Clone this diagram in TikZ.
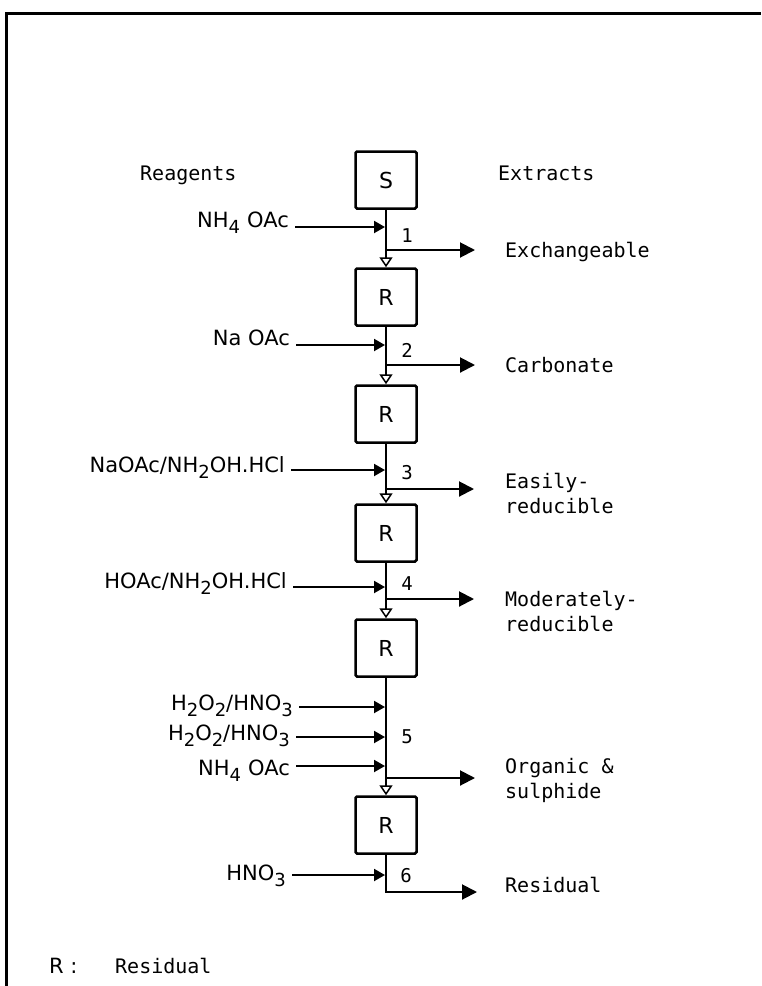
\documentclass[tikz,border=0pt]{standalone}
\usepackage{fontspec}
\usetikzlibrary{arrows.meta}
\newfontfamily\regfont{DejaVu Sans}
\newfontfamily\extfont{DejaVu Sans Mono}
\newcommand\lowsub[1]{\raisebox{-6pt}{\fontsize{18}{18}\selectfont #1}}

\tikzset{
    box/.style={draw, line width=2.5pt, rounded corners=1.5pt, minimum width=61pt, minimum height=57pt,
        inner sep=0pt, font=\regfont\fontsize{22}{22}\selectfont},
    reagent/.style={anchor=base east, inner sep=0pt, font=\regfont\fontsize{21}{21}\selectfont},
    extract/.style={anchor=base west, inner sep=0pt, align=left, font=\extfont\fontsize{20}{25}\selectfont},
    stepno/.style={inner sep=0pt, font=\extfont\fontsize{19}{19}\selectfont},
    trunk/.style={line width=2pt, -{Triangle[open, length=10pt, width=13pt, line width=1.5pt]}},
    feed/.style={line width=2pt, shorten <=6pt, -{Triangle[length=11pt, width=12pt]}},
    exitarrow/.style={line width=2pt, -{Triangle[length=15pt, width=15pt]}}
}

\begin{document}
\begin{tikzpicture}[x=1pt, y=-1pt]
                            \useasboundingbox (0,0) rectangle (761,986);
                            \draw[line width=3pt] (6,986) -- (6,13) -- (761,13);

                            % headings
                            \node[extract] (hr) at (140,180) {Reagents};
                            \node[extract] (he) at (498,180) {Extracts};

                            % sample and residues
                            \node[box] (s) at (386,180) {S};
                            \node[box] (r1) at (386,297) {R};
                            \node[box] (r2) at (386,414) {R};
                            \node[box] (r3) at (386,533) {R};
                            \node[box] (r4) at (386,648) {R};
                            \node[box] (r5) at (386,825) {R};

                            \draw[trunk] (s) -- (r1);
                            \draw[trunk] (r1) -- (r2);
                            \draw[trunk] (r2) -- (r3);
                            \draw[trunk] (r3) -- (r4);
                            \draw[trunk] (r4) -- (r5);

                            % points on the trunk
                            \coordinate (c1) at (385,227);
                            \coordinate (c2) at (385,345);
                            \coordinate (c3) at (385,470);
                            \coordinate (c4) at (385,587);
                            \coordinate (c5a) at (385,707);
                            \coordinate (c5b) at (385,737);
                            \coordinate (c5c) at (385,766);
                            \coordinate (c6) at (385,875);

                            \coordinate (o1) at (386,250);
                            \coordinate (o2) at (386,365);
                            \coordinate (o3) at (386,489);
                            \coordinate (o4) at (386,599);
                            \coordinate (o5) at (386,778);
                            \coordinate (t1) at (475,250);
                            \coordinate (t2) at (475,365);
                            \coordinate (t3) at (474,489);
                            \coordinate (t4) at (474,599);
                            \coordinate (t5) at (475,778);
                            \coordinate (t6) at (477,892);

                            % reagents
                            \node[reagent] (g1) at (289,227) {NH\lowsub{4}\,\,OAc};
                            \node[reagent] (g2) at (290,345) {Na OAc};
                            \node[reagent] (g3) at (285,472) {NaOAc/NH\lowsub{2}OH.HCl};
                            \node[reagent] (g4) at (287,588) {HOAc/NH\lowsub{2}OH.HCl};
                            \node[reagent] (g5a) at (293,710) {H\lowsub{2}O\lowsub{2}/HNO\lowsub{3}};
                            \node[reagent] (g5b) at (290,740) {H\lowsub{2}O\lowsub{2}/HNO\lowsub{3}};
                            \node[reagent] (g5c) at (290,775) {NH\lowsub{4}\,\,OAc};
                            \node[reagent] (g6) at (286,880) {HNO\lowsub{3}};

                            \draw[feed] (g1.east |- c1) -- (c1);
                            \draw[feed] (g2.east |- c2) -- (c2);
                            \draw[feed] (g3.east |- c3) -- (c3);
                            \draw[feed] (g4.east |- c4) -- (c4);
                            \draw[feed] (g5a.east |- c5a) -- (c5a);
                            \draw[feed] (g5b.east |- c5b) -- (c5b);
                            \draw[feed] (g5c.east |- c5c) -- (c5c);
                            \draw[feed] (g6.east |- c6) -- (c6);

                            % step numbers
                            \node[stepno] (n1) at (407,236) {1};
                            \node[stepno] (n2) at (407,350) {2};
                            \node[stepno] (n3) at (407,473) {3};
                            \node[stepno] (n4) at (407,584) {4};
                            \node[stepno] (n5) at (407,737) {5};
                            \node[stepno] (n6) at (406,876) {6};

                            % extracts
                            \draw[exitarrow] (o1) -- (t1);
                            \draw[exitarrow] (o2) -- (t2);
                            \draw[exitarrow] (o3) -- (t3);
                            \draw[exitarrow] (o4) -- (t4);
                            \draw[exitarrow] (o5) -- (t5);
                            \draw[exitarrow] (r5) |- (t6);

                            \node[extract] (x1) at (505,257) {Exchangeable};
                            \node[extract] (x2) at (505,372) {Carbonate};
                            \node[extract] (x3) at (505,513) {Easily-\\reducible};
                            \node[extract] (x4) at (505,631) {Moderately-\\reducible};
                            \node[extract] (x5) at (505,798) {Organic \&\\sulphide};
                            \node[extract] (x6) at (505,892) {Residual};

                            % legend
                            \node[reagent, anchor=base west] (lr) at (49,973) {R :};
                            \node[extract] (lt) at (115,973) {Residual};
\end{tikzpicture}
\end{document}
